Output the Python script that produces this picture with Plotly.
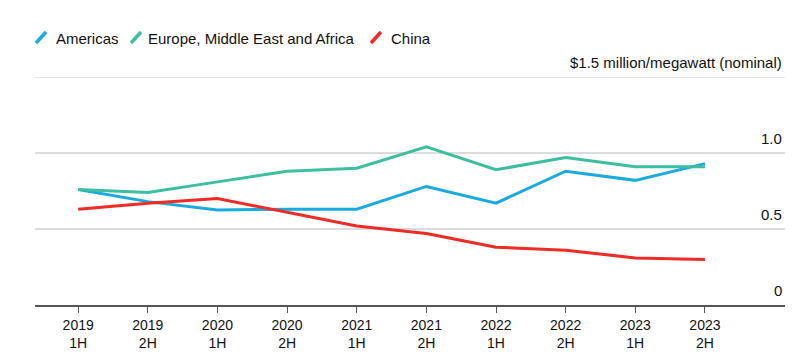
import plotly.graph_objects as go

periods = ["2019 1H", "2019 2H", "2020 1H", "2020 2H", "2021 1H",
           "2021 2H", "2022 1H", "2022 2H", "2023 1H", "2023 2H"]
tick_labels = ["2019<br>1H", "2019<br>2H", "2020<br>1H", "2020<br>2H", "2021<br>1H",
               "2021<br>2H", "2022<br>1H", "2022<br>2H", "2023<br>1H", "2023<br>2H"]
americas = [0.76, 0.68, 0.625, 0.63, 0.63, 0.78, 0.67, 0.88, 0.82, 0.93]
emea = [0.76, 0.74, 0.81, 0.88, 0.90, 1.04, 0.89, 0.97, 0.91, 0.91]
china = [0.63, 0.67, 0.70, 0.61, 0.52, 0.47, 0.38, 0.36, 0.31, 0.30]
y_ticks = [0, 0.5, 1.0, 1.5]
y_tick_text = ["0", "0.5", "1.0", "$1.5 million/megawatt (nominal)"]
series_names = ["Americas", "Europe, Middle East and Africa", "China"]

C_AM = "#1AAAE2"
C_EM = "#3DBE9F"
C_CN = "#EE2B24"
colors = [C_AM, C_EM, C_CN]
FONT = "Liberation Sans"

W, H = 800, 359
ML, MR, MT, MB = 27, 23, 69, 62
PW, PH = W - ML - MR, H - MT - MB


def px(fx):
    return (fx - ML) / PW


def py(fy):
    return (H - MB - fy) / PH


x = list(range(len(periods)))
fig = go.Figure()
for name, vals, col in zip(series_names, [americas, emea, china], colors):
    fig.add_trace(go.Scatter(x=x, y=vals, mode="lines", name=name,
                             line=dict(color=col, width=3), hoverinfo="skip"))

fig.update_layout(
    width=W, height=H,
    margin=dict(l=ML, r=MR, t=MT, b=MB),
    paper_bgcolor="white", plot_bgcolor="white",
    showlegend=False,
    font=dict(family=FONT, size=14, color="#111"),
    xaxis=dict(range=[-0.62, 10.15], tickmode="array", tickvals=x, ticktext=tick_labels,
               showgrid=False, zeroline=False, showline=True, linecolor="#555", linewidth=1.5,
               ticks="outside", ticklen=6, tickcolor="#555", tickwidth=1.2,
               tickfont=dict(family=FONT, size=14, color="#111")),
    yaxis=dict(range=[0, 1.5], tickvals=[0.5, 1.0], showticklabels=False,
               showgrid=True, gridcolor="#dcdcdc", gridwidth=1.5, zeroline=False),
)
fig.add_shape(type="line", xref="paper", x0=0, x1=1, yref="y", y0=1.5, y1=1.5,
              line=dict(color="#dcdcdc", width=1.5), layer="below")

for v, t in zip(y_ticks, y_tick_text):
    fig.add_annotation(x=1, xref="paper", xanchor="right", xshift=-1, y=v, yref="y",
                       yanchor="bottom", yshift=4, text=t, showarrow=False,
                       font=dict(family=FONT, size=15, color="#111"))

# legend: slanted swatch + label (figure pixel positions)
legend_items = [(28, 46), (123, 138), (363, 381)]
LY = 30
for (sx, tx), name, col in zip(legend_items, series_names, colors):
    fig.add_shape(type="line", xref="paper", yref="paper",
                  x0=px(sx), y0=py(LY + 5), x1=px(sx + 10), y1=py(LY - 6),
                  line=dict(color=col, width=3.5))
    fig.add_annotation(x=px(tx), xref="paper", y=py(LY), yref="paper",
                       text=name, showarrow=False, xanchor="left", yanchor="middle",
                       font=dict(family=FONT, size=15, color="#111"))

fig.write_html("out.html")
